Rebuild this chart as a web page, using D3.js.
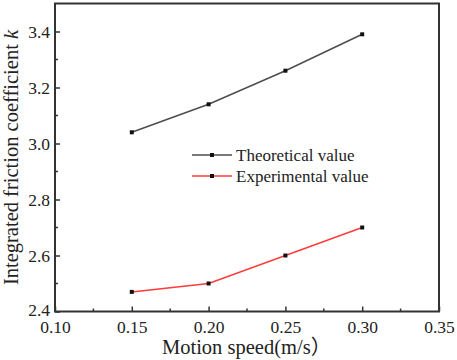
<!DOCTYPE html>
<html>
<head>
<meta charset="utf-8">
<script src="https://cdn.jsdelivr.net/npm/d3@7"></script>
<style>
  body { margin: 0; background: #fff; }
  svg text { font-family: "Liberation Serif", "Times New Roman", serif; }
</style>
</head>
<body>
<svg id="chart"></svg>
<script>
const width = 457;
const height = 360;

// data
const speeds = [0.15, 0.20, 0.25, 0.30];
const theoretical = [3.04, 3.14, 3.26, 3.39];
const experimental = [2.47, 2.50, 2.60, 2.70];
const seriesNames = ["Theoretical value", "Experimental value"];
const seriesColors = ["#4d4d4d", "#ff3b3b"];
const xTicks = [0.10, 0.15, 0.20, 0.25, 0.30, 0.35];
const yTicks = [2.4, 2.6, 2.8, 3.0, 3.2, 3.4];

const margin = { top: 3.5, right: 18, bottom: 48.5, left: 55 };
const plotW = width - margin.left - margin.right;
const plotH = height - margin.top - margin.bottom;

const svg = d3.select("#chart")
  .attr("width", width)
  .attr("height", height);

const x = d3.scaleLinear().domain([0.10, 0.35]).range([margin.left, margin.left + plotW]);
const y = d3.scaleLinear().domain([2.4, 3.5]).range([margin.top + plotH, margin.top]);

const frameColor = "#333";

// minor ticks (inward)
const xMinor = d3.range(0.125, 0.35, 0.05);
const yMinor = d3.range(2.5, 3.5, 0.2);

const xAxis = svg.append("g")
  .attr("transform", `translate(0,${margin.top + plotH})`)
  .call(d3.axisBottom(x).tickValues(xTicks).tickFormat(d3.format(".2f")).tickSizeInner(-5).tickSizeOuter(0).tickPadding(9));
xAxis.append("g").selectAll("line")
  .data(xMinor)
  .enter().append("line")
  .attr("x1", d => x(d)).attr("x2", d => x(d))
  .attr("y1", 0).attr("y2", -3)
  .attr("stroke", frameColor).attr("stroke-width", 1.5);

const yAxis = svg.append("g")
  .attr("transform", `translate(${margin.left},0)`)
  .call(d3.axisLeft(y).tickValues(yTicks).tickFormat(d3.format(".1f")).tickSizeInner(-5).tickSizeOuter(0).tickPadding(5));
yAxis.append("g").selectAll("line")
  .data(yMinor)
  .enter().append("line")
  .attr("y1", d => y(d)).attr("y2", d => y(d))
  .attr("x1", 0).attr("x2", 3)
  .attr("stroke", frameColor).attr("stroke-width", 1.5);

[xAxis, yAxis].forEach(a => {
  a.attr("font-family", null).attr("font-size", null);
  a.select(".domain").remove();
  a.selectAll(".tick line").attr("stroke", frameColor).attr("stroke-width", 1.5);
  a.selectAll("text")
    .style("font-family", "'Liberation Serif', serif")
    .style("font-size", "17.5px")
    .attr("fill", "#222");
});
// lowest y label sits just above the x labels
yAxis.selectAll(".tick text").attr("dy", d => d === 2.4 ? "0.2em" : "0.34em");

// frame
svg.append("rect")
  .attr("x", margin.left)
  .attr("y", margin.top)
  .attr("width", plotW)
  .attr("height", plotH)
  .attr("fill", "none")
  .attr("stroke", frameColor)
  .attr("stroke-width", 2);

// series
const series = [theoretical, experimental];
const line = d3.line()
  .x((d, i) => x(speeds[i]))
  .y(d => y(d));

series.forEach((vals, s) => {
  svg.append("path")
    .datum(vals)
    .attr("d", line)
    .attr("fill", "none")
    .attr("stroke", seriesColors[s])
    .attr("stroke-width", 1.5);
  svg.append("g").selectAll("rect")
    .data(vals)
    .enter().append("rect")
    .attr("x", (d, i) => x(speeds[i]) - 2)
    .attr("y", d => y(d) - 2)
    .attr("width", 4)
    .attr("height", 4)
    .attr("fill", "#111");
});

// legend
const legend = svg.append("g").attr("transform", "translate(192,155)");
seriesNames.forEach((name, i) => {
  const g = legend.append("g").attr("transform", `translate(0,${i * 21})`);
  g.append("line")
    .attr("x1", 0).attr("x2", 40)
    .attr("stroke", seriesColors[i])
    .attr("stroke-width", 1.5);
  g.append("rect")
    .attr("x", 18).attr("y", -2)
    .attr("width", 4).attr("height", 4)
    .attr("fill", "#111");
  g.append("text")
    .attr("x", 44)
    .attr("dy", "0.35em")
    .style("font-size", "17px")
    .attr("fill", "#222")
    .text(name);
});

// axis titles
const xTitle = svg.append("text")
  .attr("x", 162)
  .attr("y", 354)
  .style("font-size", "20.5px")
  .attr("fill", "#222");
xTitle.append("tspan").text("Motion speed(m/s");
xTitle.append("tspan").style("font-family", "'Noto Sans CJK SC', sans-serif").text("）");

const yTitle = svg.append("text")
  .attr("transform", `translate(18,${157.5}) rotate(-90)`)
  .attr("text-anchor", "middle")
  .style("font-size", "20.5px")
  .attr("fill", "#222");
yTitle.append("tspan").text("Integrated friction coefficient ");
yTitle.append("tspan").style("font-style", "italic").text("k");
</script>
</body>
</html>
